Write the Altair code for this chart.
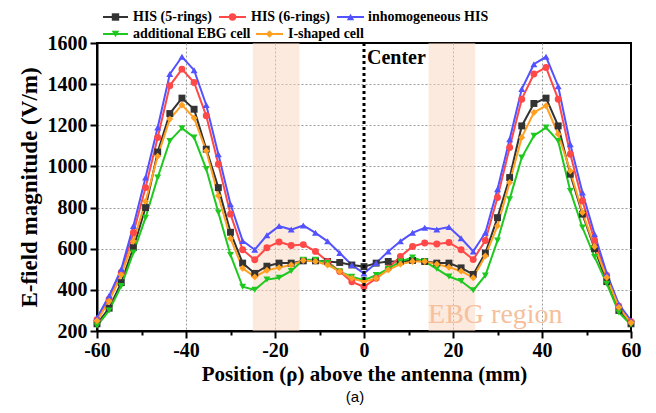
import altair as alt
import pandas as pd

# ---------------- data ----------------
x_mm = [-60, -57.27, -54.55, -51.82, -49.09, -46.36, -43.64, -40.91, -38.18, -35.45,
        -32.73, -30, -27.27, -24.55, -21.82, -19.09, -16.36, -13.64, -10.91, -8.18,
        -5.45, -2.73, 0, 2.73, 5.45, 8.18, 10.91, 13.64, 16.36, 19.09,
        21.82, 24.55, 27.27, 30, 32.73, 35.45, 38.18, 40.91, 43.64, 46.36,
        49.09, 51.82, 54.55, 57.27, 60]

his5 = [235, 311, 435, 605, 800, 1070, 1257, 1332, 1278, 1084,
        897, 680, 530, 480, 515, 530, 530, 541, 541, 538,
        533, 521, 513, 530, 538, 538, 543, 538, 530, 530,
        507, 475, 579, 751, 946, 1197, 1306, 1332, 1197, 962,
        768, 600, 440, 300, 235]
his6 = [255, 355, 484, 678, 897, 1141, 1392, 1473, 1408, 1246,
        1011, 768, 595, 546, 605, 633, 616, 620, 587, 538,
        489, 439, 415, 456, 505, 562, 611, 628, 623, 630,
        595, 547, 640, 849, 1092, 1327, 1449, 1481, 1327, 1059,
        832, 640, 470, 320, 245]
inhom = [265, 371, 500, 711, 946, 1189, 1449, 1533, 1468, 1299,
         1059, 816, 638, 595, 665, 710, 693, 713, 677, 636,
         579, 521, 480, 530, 587, 636, 677, 702, 693, 705,
         651, 587, 678, 889, 1132, 1376, 1497, 1533, 1390, 1108,
         873, 670, 480, 330, 250]
ebg = [225, 300, 419, 581, 751, 946, 1124, 1186, 1141, 987,
       776, 570, 415, 400, 450, 459, 492, 546, 546, 530,
       489, 464, 447, 472, 502, 538, 557, 538, 502, 465,
       443, 398, 470, 640, 841, 1043, 1149, 1189, 1124, 881,
       703, 560, 430, 290, 230]
ishape = [250, 345, 473, 636, 830, 1050, 1230, 1299, 1235, 1076,
          857, 650, 505, 463, 495, 508, 521, 543, 538, 521,
          489, 456, 439, 456, 497, 525, 538, 538, 525, 510,
          491, 459, 565, 711, 922, 1141, 1262, 1295, 1157, 978,
          776, 610, 460, 315, 240]

series_names = ["HIS (5-rings)", "HIS (6-rings)", "inhomogeneous HIS",
                "additional EBG cell", "I-shaped cell"]
series_values = [his5, his6, inhom, ebg, ishape]
colors = ["#333333", "#ff4848", "#5252ff", "#1ec81e", "#ffa020"]
shapes = ["square", "circle", "triangle-up", "triangle-down", "diamond"]

ebg_bands_start = [-25, 14.5]
ebg_bands_end = [-14.5, 25]

# legend layout (pixels, relative to the plot's top-left corner)
leg_line_x0 = [6, 122, 240, 6, 159]
leg_line_x1 = [31, 149, 267, 31, 186]
leg_text_x = [36, 154, 271, 36, 191]
leg_row_y = [-26, -26, -26, -9, -9]

rows = []
for name, vals in zip(series_names, series_values):
    for xv, yv in zip(x_mm, vals):
        rows.append({"x": xv, "value": yv, "series": name})
df = pd.DataFrame(rows)

leg_df = pd.DataFrame({
    "series": series_names,
    "lx0": leg_line_x0, "lx1": leg_line_x1, "tx": leg_text_x, "ly": leg_row_y,
})
leg_df["lxm"] = (leg_df["lx0"] + leg_df["lx1"]) / 2

SERIF = "Liberation Serif"

x_scale = alt.Scale(domain=[-60, 60], nice=False, zero=False)
y_scale = alt.Scale(domain=[200, 1600], nice=False, zero=False)
col_scale = alt.Scale(domain=series_names, range=colors)

x_axis = alt.Axis(
    values=list(range(-60, 61, 10)),
    labelExpr="datum.value % 20 === 0 ? '' + datum.value : ''",
    labelFlush=False, labelOverlap=False,
    tickSize={"condition": {"test": "datum.value % 20 === 0", "value": 7}, "value": 4},
    tickWidth=2, tickColor="black",
    domainColor="black", domainWidth=2,
    grid=True, gridDash=[2, 2], gridColor="#9a9a9a", gridWidth=1,
    gridOpacity={"condition": {"test": "datum.value % 20 === 0 && datum.value !== 0 && abs(datum.value) < 60", "value": 1}, "value": 0},
    labelFont=SERIF, labelFontSize=20, labelFontWeight="bold", labelColor="black",
    labelPadding=2,
    title="Position (\u03c1) above the antenna (mm)",
    titleFont=SERIF, titleFontSize=21, titleFontWeight="bold", titleColor="black",
    titlePadding=3,
)
y_axis = alt.Axis(
    values=list(range(200, 1601, 100)),
    labelExpr="datum.value % 200 === 0 ? '' + datum.value : ''",
    labelFlush=False, labelOverlap=False,
    tickSize={"condition": {"test": "datum.value % 200 === 0", "value": 7}, "value": 4},
    tickWidth=2, tickColor="black",
    domainColor="black", domainWidth=2,
    grid=True, gridDash=[2, 2], gridColor="#9a9a9a", gridWidth=1,
    gridOpacity={"condition": {"test": "datum.value % 200 === 0 && datum.value > 200 && datum.value < 1600", "value": 1}, "value": 0},
    labelFont=SERIF, labelFontSize=20, labelFontWeight="bold", labelColor="black",
    labelPadding=3,
    title="E-field magnitude (V/m)",
    titleFont=SERIF, titleFontSize=23, titleFontWeight="bold", titleColor="black",
    titlePadding=6,
)

base = alt.Chart(df)

bands_df = pd.DataFrame({"x": ebg_bands_start, "x2": ebg_bands_end})
bands = alt.Chart(bands_df).mark_rect(color="#f9d5bd", opacity=0.5).encode(
    x=alt.X("x:Q", scale=x_scale, axis=x_axis), x2="x2:Q"
)

lines = base.mark_line(strokeWidth=2).encode(
    x=alt.X("x:Q", scale=x_scale, axis=x_axis),
    y=alt.Y("value:Q", scale=y_scale, axis=y_axis),
    color=alt.Color("series:N", scale=col_scale, legend=None),
    detail="series:N",
)

point_layers = []
for name, col, shp in zip(series_names, colors, shapes):
    point_layers.append(
        base.transform_filter(alt.datum.series == name).mark_point(
            filled=True, size=48, opacity=1, shape=shp, color=col
        ).encode(
            x=alt.X("x:Q", scale=x_scale),
            y=alt.Y("value:Q", scale=y_scale),
        )
    )

# ---- legend drawn by hand above the plot ----
leg_base = alt.Chart(leg_df)
leg_lines = leg_base.mark_rule(strokeWidth=2).encode(
    x=alt.X("lx0:Q", scale=None, axis=None), x2="lx1:Q",
    y=alt.Y("ly:Q", scale=None, axis=None),
    color=alt.Color("series:N", scale=col_scale, legend=None),
)
leg_points = []
for name, col, shp in zip(series_names, colors, shapes):
    leg_points.append(
        leg_base.transform_filter(alt.datum.series == name).mark_point(
            filled=True, size=55, opacity=1, shape=shp, color=col
        ).encode(
            x=alt.X("lxm:Q", scale=None, axis=None),
            y=alt.Y("ly:Q", scale=None, axis=None),
        )
    )
leg_text = leg_base.mark_text(
    align="left", baseline="middle", font=SERIF, fontSize=14, fontWeight="bold", color="black"
).encode(
    x=alt.X("tx:Q", scale=None, axis=None),
    y=alt.Y("ly:Q", scale=None, axis=None),
    text="series:N",
)

center_df = pd.DataFrame({"x": [0], "y": [1600], "label": ["Center"]})
center_rule = alt.Chart(center_df).mark_rule(color="black", strokeWidth=3, strokeDash=[3, 3]).encode(
    x=alt.X("x:Q", scale=x_scale)
)
center_text = alt.Chart(center_df).mark_text(
    align="left", baseline="top", dx=3, dy=5, font=SERIF, fontSize=20, fontWeight="bold", color="black"
).encode(x=alt.X("x:Q", scale=x_scale), y=alt.Y("y:Q", scale=y_scale), text="label:N")

ebg_df = pd.DataFrame({"x": [14.4], "y": [240], "label": ["EBG region"]})
ebg_text = alt.Chart(ebg_df).mark_text(
    align="left", baseline="alphabetic", font=SERIF, fontSize=28, color="#f6c09c"
).encode(x=alt.X("x:Q", scale=x_scale), y=alt.Y("y:Q", scale=y_scale), text="label:N")

cap_df = pd.DataFrame({"label": ["(a)"]})
caption = alt.Chart(cap_df).mark_text(
    align="center", baseline="middle", font="Liberation Sans", fontSize=15, color="black"
).encode(x=alt.value(258), y=alt.value(354), text="label:N")

chart = alt.layer(
    bands, lines, *point_layers, center_rule, center_text, ebg_text, caption,
    leg_lines, *leg_points, leg_text
).properties(
    width=534, height=288,
    autosize=alt.AutoSizeParams(type="none"),
    padding={"left": 89, "top": 35, "right": 17, "bottom": 74},
    background="white",
).configure_view(stroke="black", strokeWidth=2)

chart.save("out.html", embed_options={"renderer": "svg", "actions": False})
